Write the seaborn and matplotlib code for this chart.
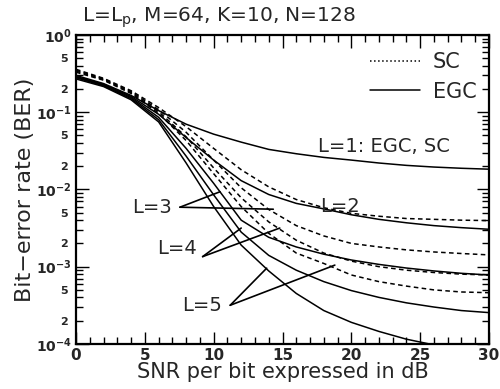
import numpy as np
import pandas as pd
import matplotlib
matplotlib.use("Agg")
import matplotlib.pyplot as plt
import matplotlib.ticker as mticker
from matplotlib.lines import Line2D
import seaborn as sns

# SNR per bit (dB)
snr_db = [0, 2, 4, 6, 8, 10, 12, 14, 16, 18, 20, 22, 24, 26, 28, 30]

# EGC (solid); L=1 is the same for EGC and SC
egc_l1 = [0.30, 0.235, 0.165, 0.105, 0.070, 0.052, 0.041, 0.033, 0.029, 0.026,
          0.024, 0.022, 0.0205, 0.0195, 0.0188, 0.0183]
egc_l2 = [0.29, 0.23, 0.16, 0.094, 0.047, 0.024, 0.0130, 0.0086, 0.0066, 0.0056,
          0.0047, 0.0041, 0.0037, 0.0034, 0.0032, 0.00305]
egc_l3 = [0.285, 0.225, 0.155, 0.086, 0.034, 0.012, 0.0040, 0.0024, 0.0018, 0.00145,
          0.00122, 0.00107, 0.00096, 0.00088, 0.00082, 0.00078]
egc_l4 = [0.28, 0.22, 0.15, 0.080, 0.027, 0.0085, 0.0028, 0.0014, 0.00090, 0.00064,
          0.00049, 0.00040, 0.00034, 0.00030, 0.00027, 0.000254]
egc_l5 = [0.27, 0.215, 0.145, 0.075, 0.022, 0.0060, 0.0019, 0.00088, 0.00045, 0.00027,
          0.00019, 0.000145, 0.000115, 0.000097, 0.000085, 0.000076]

# SC (dashed)
sc_l2 = [0.36, 0.275, 0.19, 0.115, 0.065, 0.034, 0.018, 0.0108, 0.0074, 0.0058,
         0.0049, 0.0045, 0.0042, 0.0041, 0.0040, 0.00395]
sc_l3 = [0.35, 0.27, 0.185, 0.108, 0.055, 0.024, 0.0105, 0.0055, 0.0034, 0.0025,
         0.0020, 0.0018, 0.00165, 0.00155, 0.00148, 0.00142]
sc_l4 = [0.34, 0.265, 0.18, 0.102, 0.048, 0.019, 0.0078, 0.0038, 0.0022, 0.0015,
         0.00118, 0.0010, 0.0009, 0.00084, 0.0008, 0.00078]
sc_l5 = [0.33, 0.26, 0.175, 0.097, 0.043, 0.016, 0.0060, 0.0027, 0.0015, 0.0011,
         0.00078, 0.00064, 0.00056, 0.0005, 0.00047, 0.00046]

curves = {
    ('EGC', 'L1'): egc_l1, ('EGC', 'L2'): egc_l2, ('EGC', 'L3'): egc_l3,
    ('EGC', 'L4'): egc_l4, ('EGC', 'L5'): egc_l5,
    ('SC', 'L2'): sc_l2, ('SC', 'L3'): sc_l3, ('SC', 'L4'): sc_l4, ('SC', 'L5'): sc_l5,
}

rows = []
for (scheme, lab), vals in curves.items():
    for s, b in zip(snr_db, vals):
        rows.append({'snr': s, 'ber': b, 'scheme': scheme, 'curve': scheme + lab})
df = pd.DataFrame(rows)

sns.set_style("ticks")
plt.rcParams['font.family'] = ['DejaVu Sans']

fig = plt.figure(figsize=(5.0, 3.89), dpi=100)
ax = fig.add_axes([0.152, 0.116, 0.826, 0.794])

sns.lineplot(data=df, x='snr', y='ber', units='curve', style='scheme',
             estimator=None, color='black', linewidth=1.1,
             dashes={'EGC': '', 'SC': (3, 2.2)}, legend=False, ax=ax)

ax.set_yscale('log')
ax.set_xlim(0, 30)
ax.set_ylim(1e-4, 1)

# ticks
ax.xaxis.set_major_locator(mticker.MultipleLocator(5))
ax.xaxis.set_minor_locator(mticker.MultipleLocator(1))
ax.yaxis.set_major_locator(mticker.LogLocator(base=10, numticks=10))
ax.yaxis.set_minor_locator(mticker.LogLocator(base=10, subs=np.arange(2, 10), numticks=10))


def minor_fmt(v, pos):
    m = round(v / 10 ** np.floor(np.log10(v) + 1e-9))
    return str(m) if m in (2, 5) else ''


ax.yaxis.set_minor_formatter(mticker.FuncFormatter(minor_fmt))
ax.tick_params(which='both', direction='in', top=True, right=True, width=1.0, color='black')
ax.tick_params(which='major', length=9, labelsize=11, pad=3)
ax.tick_params(axis='y', which='major', labelsize=10)
ax.tick_params(which='minor', length=5)
ax.tick_params(axis='y', which='minor', labelsize=8, pad=6)
for lbl in ax.get_xticklabels() + ax.get_yticklabels(which='both'):
    lbl.set_fontweight('bold')
for sp in ax.spines.values():
    sp.set_linewidth(1.6)
    sp.set_color('black')

ax.set_xlabel('SNR per bit expressed in dB', fontsize=15, labelpad=-1)
ax.set_ylabel('Bit\u2212error rate (BER)', fontsize=16, labelpad=1)
fig.text(0.164, 0.985, 'L=L$_\\mathregular{p}$, M=64, K=10, N=128', fontsize=14.5, va='top', ha='left')

# legend
handles = [Line2D([], [], color='black', linestyle=':', linewidth=1.1),
           Line2D([], [], color='black', linestyle='-', linewidth=1.1)]
ax.legend(handles, ['SC', 'EGC'], loc='upper right', frameon=False, fontsize=15,
          handlelength=2.4, handletextpad=0.6, labelspacing=0.45,
          bbox_to_anchor=(1.015, 1.005))

# curve labels
ax.text(17.6, 0.0355, 'L=1: EGC, SC', fontsize=14, va='center', ha='left')
ax.text(17.7, 0.0061, 'L=2', fontsize=14, va='center', ha='left')

ann = dict(arrowstyle='-', color='black', linewidth=1.2, shrinkA=0, shrinkB=0)
label_pts = {
    'L=3': ((4.1, 10 ** -2.23), (7.55, 10 ** -2.23), [(10.46, 10 ** -2.03), (14.33, 10 ** -2.256)]),
    'L=4': ((5.9, 10 ** -2.76), (9.2, 10 ** -2.87), [(12.0, 10 ** -2.50), (14.8, 10 ** -2.50)]),
    'L=5': ((7.7, 10 ** -3.50), (11.2, 10 ** -3.50), [(13.85, 10 ** -3.02), (18.8, 10 ** -2.98)]),
}
for txt, (tpos, vertex, targets) in label_pts.items():
    ax.text(tpos[0], tpos[1], txt, fontsize=14, va='center', ha='left')
    for tgt in targets:
        ax.annotate('', xy=tgt, xytext=vertex, arrowprops=ann)

fig.savefig('out.png', dpi=100)
